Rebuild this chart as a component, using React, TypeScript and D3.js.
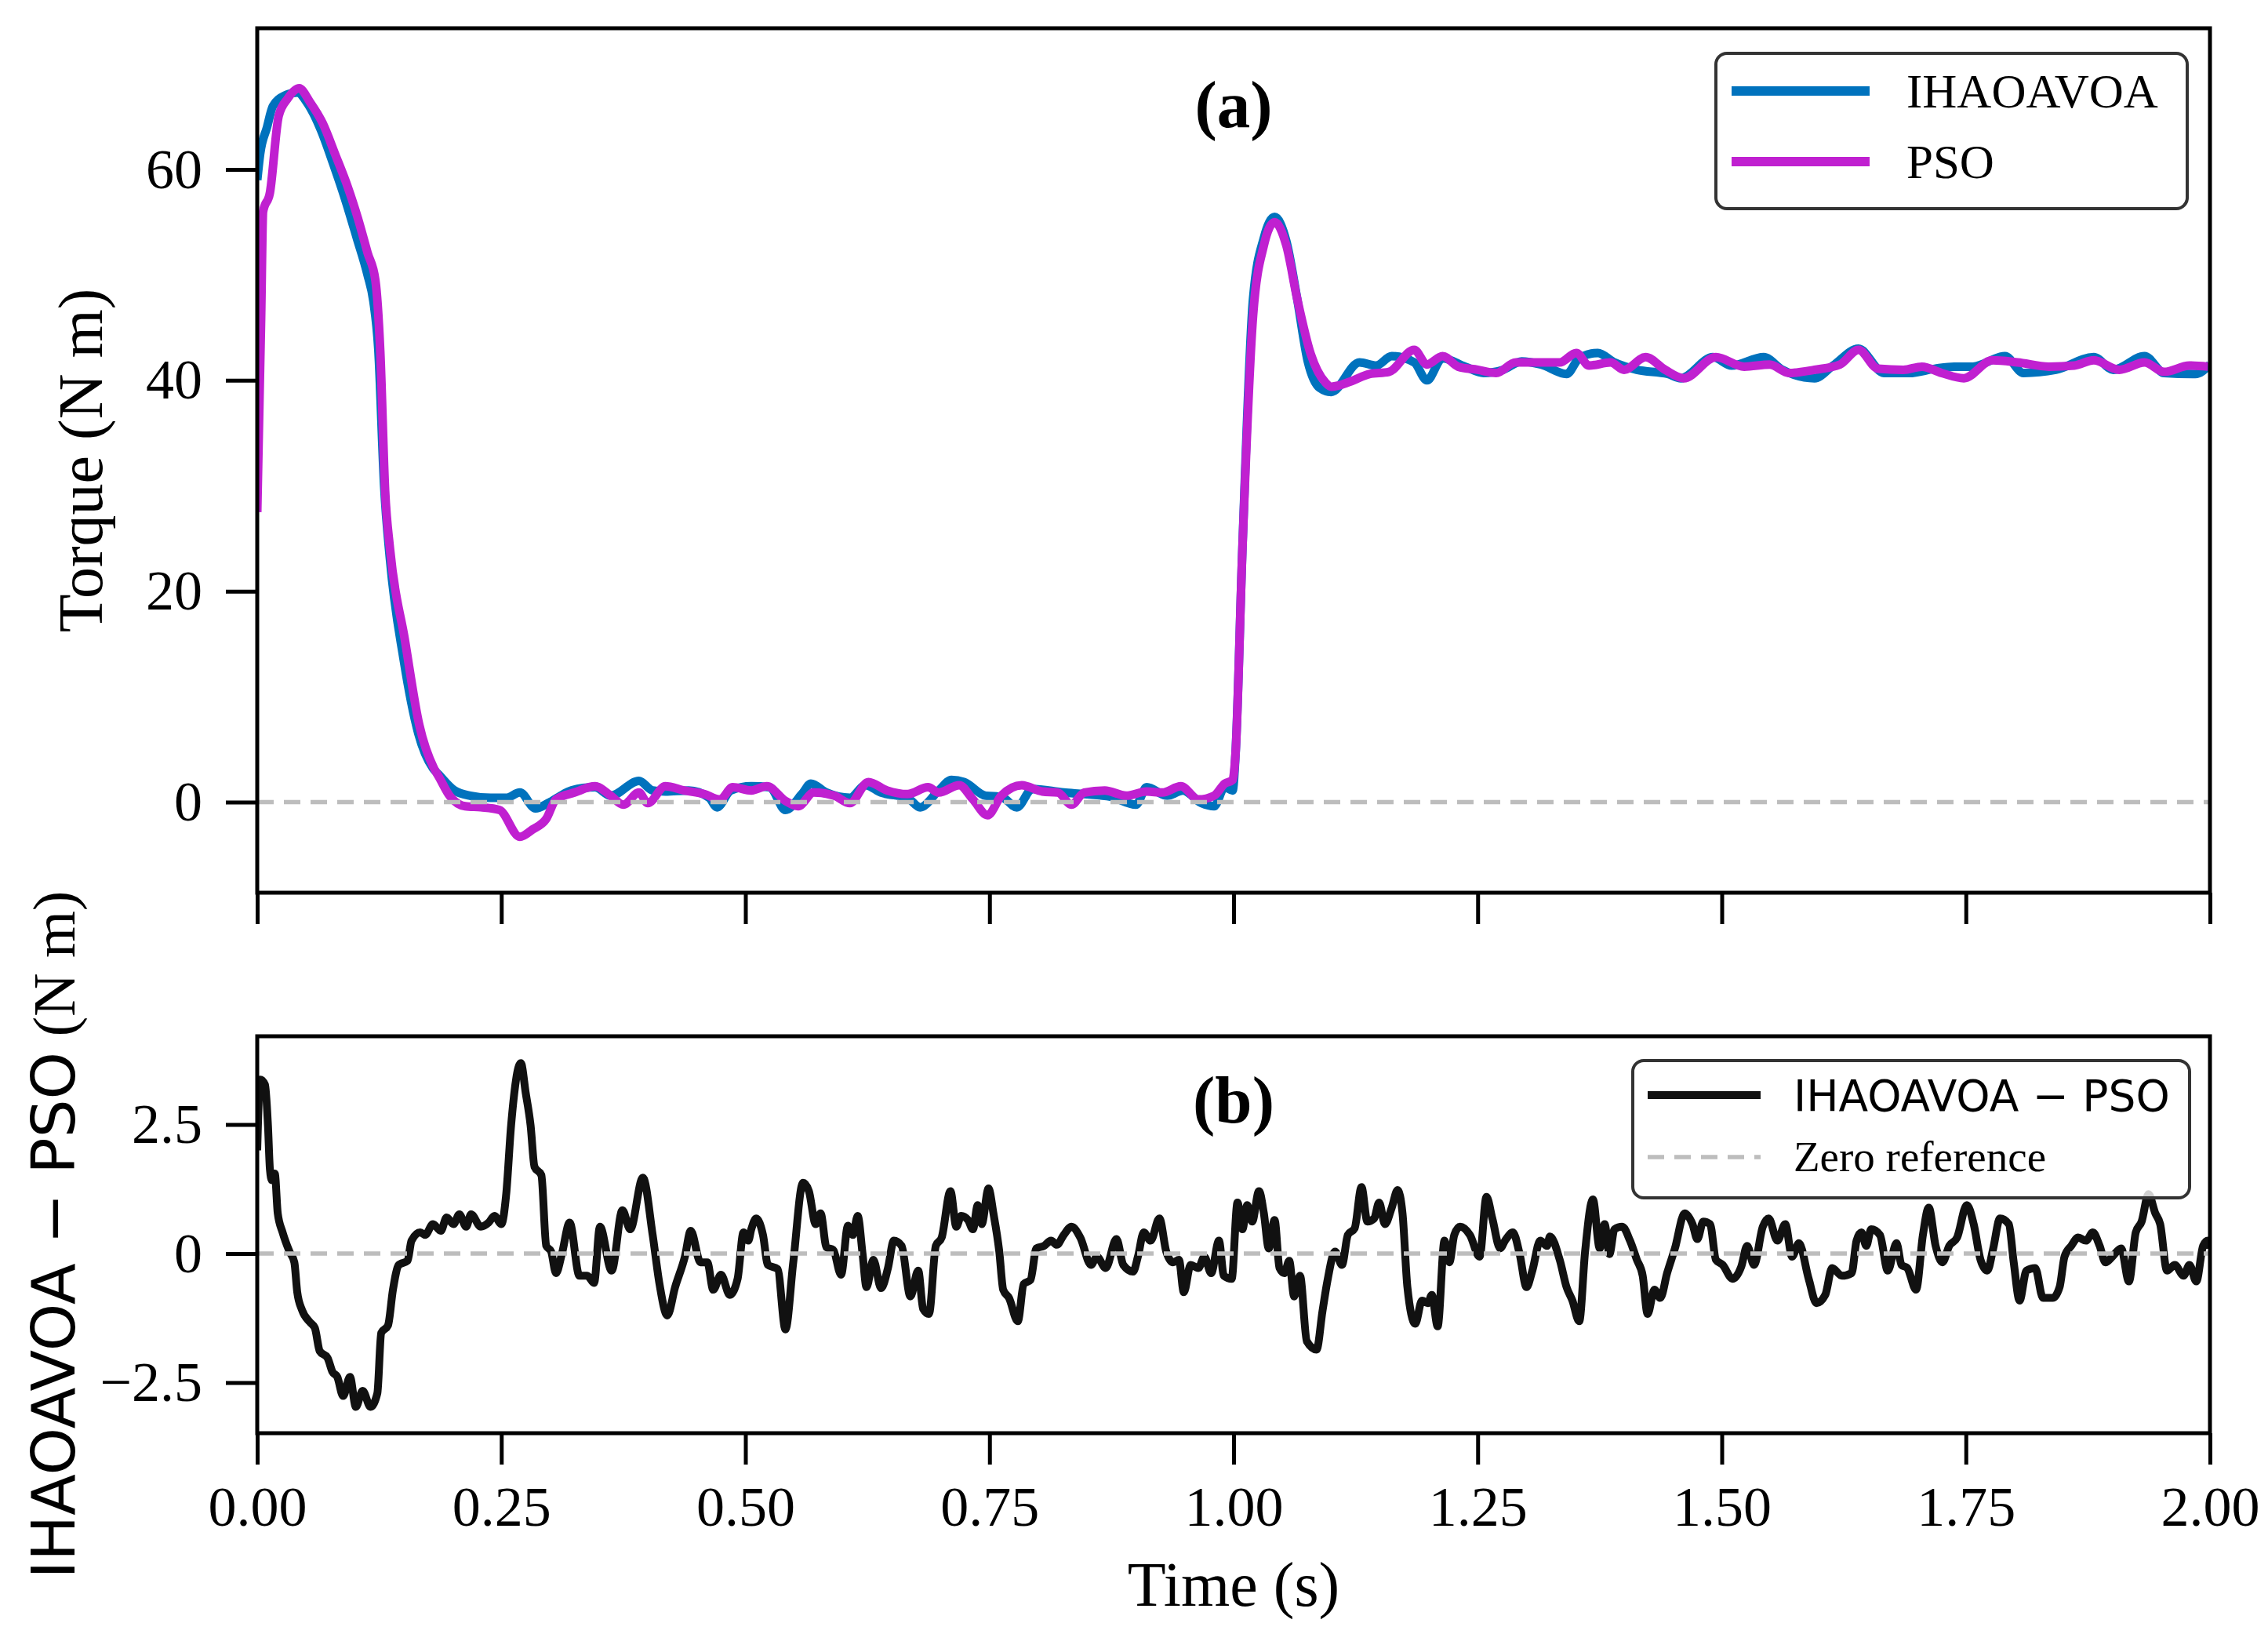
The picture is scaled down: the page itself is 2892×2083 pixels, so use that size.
import { useEffect, useRef } from "react";
import * as d3 from "d3";

// ---- data ----
const timeTicks = [0, 0.25, 0.5, 0.75, 1, 1.25, 1.5, 1.75, 2];
const torqueTicks = [0, 20, 40, 60];
const diffTicks = [-2.5, 0, 2.5];
const seriesNames = ["IHAOAVOA", "PSO"];
const diffName = "IHAOAVOA \u2212 PSO";
const zeroName = "Zero reference";

// [time (s), torque (N m)]
const ihaoavoaTorque: [number, number][] = [
  [0.0, 59.0], [0.003, 61.5], [0.01, 64.0], [0.016, 66.0], [0.028, 67.0], [0.041, 67.3],
  [0.052, 66.2], [0.065, 63.8], [0.078, 60.5], [0.09, 57.2], [0.102, 53.5], [0.113, 50.0],
  [0.119, 47.5], [0.124, 43.0], [0.13, 30.0], [0.136, 23.0], [0.15, 13.5], [0.165, 6.5],
  [0.18, 3.2], [0.186, 2.6], [0.202, 1.1], [0.218, 0.6], [0.239, 0.4], [0.255, 0.4],
  [0.269, 0.9], [0.285, -0.6], [0.298, -0.1], [0.309, 0.5], [0.322, 1.1], [0.346, 1.4],
  [0.362, 0.6], [0.391, 2.0], [0.405, 1.1], [0.418, 1.0], [0.442, 1.1], [0.463, 0.4],
  [0.471, -0.5], [0.485, 1.1], [0.506, 1.5], [0.525, 1.4], [0.541, -0.75], [0.559, 0.9],
  [0.567, 1.75], [0.583, 0.9], [0.607, 0.4], [0.623, 1.6], [0.639, 0.9], [0.666, 0.4],
  [0.679, -0.5], [0.698, 1.1], [0.711, 2.1], [0.724, 1.9], [0.746, 0.6], [0.762, 0.5],
  [0.778, -0.5], [0.794, 1.25], [0.826, 0.9], [0.847, 0.75], [0.874, 0.5], [0.9, -0.25],
  [0.911, 1.4], [0.932, 0.6], [0.948, 1.1], [0.967, -0.1], [0.98, -0.4], [0.991, 1.4],
  [0.999, 1.1], [1.002, 4.6], [1.009, 24.0], [1.02, 47.8], [1.031, 53.5], [1.042, 55.5],
  [1.054, 53.2], [1.065, 47.8], [1.076, 41.8], [1.088, 39.3], [1.1, 38.9], [1.129, 41.7],
  [1.146, 41.4], [1.162, 42.3], [1.185, 41.7], [1.198, 40.0], [1.214, 42.1], [1.237, 41.3],
  [1.256, 40.7], [1.276, 41.0], [1.295, 41.8], [1.315, 41.5], [1.341, 40.6], [1.354, 42.1],
  [1.373, 42.6], [1.39, 41.7], [1.413, 41.0], [1.445, 40.6], [1.458, 40.2], [1.491, 42.2],
  [1.51, 41.4], [1.543, 42.2], [1.562, 41.0], [1.595, 40.2], [1.614, 41.4], [1.64, 43.0],
  [1.666, 40.7], [1.692, 40.7], [1.718, 41.1], [1.738, 41.3], [1.757, 41.3], [1.79, 42.3],
  [1.809, 40.7], [1.842, 41.0], [1.881, 42.2], [1.901, 41.0], [1.933, 42.3], [1.953, 40.7],
  [1.985, 40.6], [2.0, 41.5],
];

const psoTorque: [number, number][] = [
  [0.0, 27.5], [0.004, 46.0], [0.006, 56.0], [0.013, 57.8], [0.022, 65.1], [0.031, 66.7],
  [0.043, 67.7], [0.054, 66.4], [0.067, 64.4], [0.08, 61.4], [0.0925, 58.4], [0.103, 55.4],
  [0.113, 52.1], [0.121, 49.5], [0.126, 42.8], [0.131, 29.5], [0.136, 24.0], [0.151, 15.5],
  [0.166, 7.3], [0.181, 3.2], [0.186, 2.4], [0.197, 0.6], [0.213, -0.4], [0.229, -0.5],
  [0.248, -0.75], [0.269, -3.3], [0.282, -2.6], [0.296, -1.6], [0.306, 0.25], [0.325, 0.9],
  [0.346, 1.5], [0.362, 0.6], [0.375, -0.25], [0.391, 0.9], [0.4, -0.1], [0.418, 1.5],
  [0.437, 1.1], [0.458, 0.75], [0.474, 0.25], [0.487, 1.4], [0.506, 1.1], [0.522, 1.5],
  [0.541, 0.1], [0.554, -0.4], [0.57, 0.9], [0.591, 0.6], [0.607, -0.1], [0.626, 1.9],
  [0.645, 1.1], [0.666, 0.75], [0.687, 1.4], [0.698, 0.9], [0.719, 1.6], [0.733, 0.25],
  [0.748, -1.25], [0.762, 0.6], [0.783, 1.6], [0.804, 1.0], [0.82, 0.9], [0.834, -0.25],
  [0.847, 0.9], [0.868, 1.1], [0.89, 0.6], [0.911, 1.0], [0.927, 0.9], [0.946, 1.5],
  [0.964, 0.25], [0.98, 0.6], [0.991, 1.75], [0.999, 2.1], [1.002, 4.6], [1.009, 23.9],
  [1.02, 46.2], [1.031, 52.8], [1.042, 55.0], [1.054, 52.8], [1.065, 47.8], [1.079, 42.5],
  [1.094, 39.8], [1.1, 39.4], [1.12, 39.9], [1.139, 40.6], [1.159, 40.8], [1.185, 42.9],
  [1.198, 41.5], [1.214, 42.3], [1.23, 41.3], [1.25, 41.0], [1.269, 40.7], [1.289, 41.7],
  [1.315, 41.7], [1.334, 41.7], [1.351, 42.6], [1.364, 41.4], [1.386, 41.7], [1.4, 41.0],
  [1.422, 42.2], [1.442, 41.0], [1.461, 40.2], [1.494, 42.2], [1.523, 41.3], [1.549, 41.5],
  [1.569, 40.7], [1.595, 41.0], [1.621, 41.5], [1.64, 42.9], [1.66, 41.1], [1.686, 41.0],
  [1.705, 41.3], [1.725, 40.7], [1.748, 40.2], [1.777, 41.9], [1.803, 41.7], [1.835, 41.3],
  [1.861, 41.4], [1.881, 41.9], [1.907, 41.0], [1.933, 41.7], [1.953, 40.8], [1.979, 41.4],
  [1.998, 41.3],
];

// [time (s), IHAOAVOA - PSO (N m)]
const torqueDiff: [number, number][] = [
  [0.0, 2.0], [0.003, 3.37], [0.008, 3.27], [0.011, 2.48], [0.013, 1.63], [0.015, 1.42],
  [0.018, 1.55], [0.021, 0.78], [0.026, 0.41], [0.033, 0.04], [0.038, -0.17], [0.041, -0.75],
  [0.046, -1.1], [0.054, -1.33], [0.059, -1.44], [0.064, -1.89], [0.072, -2.02], [0.077, -2.29],
  [0.082, -2.39], [0.088, -2.76], [0.095, -2.39], [0.101, -2.97], [0.108, -2.66], [0.116, -2.97],
  [0.123, -2.71], [0.127, -1.54], [0.134, -1.39], [0.139, -0.7], [0.145, -0.22], [0.154, -0.14],
  [0.158, 0.25], [0.167, 0.41], [0.172, 0.36], [0.18, 0.57], [0.188, 0.44], [0.194, 0.7],
  [0.201, 0.57], [0.207, 0.76], [0.214, 0.52], [0.219, 0.76], [0.229, 0.52], [0.237, 0.6],
  [0.243, 0.73], [0.25, 0.57], [0.255, 1.15], [0.26, 2.48], [0.27, 3.69], [0.275, 3.11],
  [0.28, 2.48], [0.284, 1.68], [0.291, 1.52], [0.296, 0.15], [0.301, 0.04], [0.306, -0.38],
  [0.312, -0.01], [0.32, 0.6], [0.33, -0.43], [0.338, -0.43], [0.345, -0.57], [0.351, 0.52],
  [0.363, -0.33], [0.374, 0.84], [0.382, 0.47], [0.395, 1.47], [0.405, 0.36], [0.412, -0.59],
  [0.42, -1.2], [0.428, -0.65], [0.438, -0.06], [0.444, 0.44], [0.454, -0.17], [0.461, -0.17],
  [0.467, -0.7], [0.475, -0.41], [0.484, -0.8], [0.492, -0.49], [0.498, 0.41], [0.503, 0.25],
  [0.506, 0.47], [0.511, 0.68], [0.518, 0.36], [0.523, -0.22], [0.533, -0.3], [0.541, -1.47],
  [0.549, -0.17], [0.559, 1.37], [0.565, 1.21], [0.572, 0.57], [0.577, 0.78], [0.583, 0.12],
  [0.59, 0.07], [0.598, -0.41], [0.605, 0.54], [0.61, 0.36], [0.615, 0.73], [0.62, -0.01],
  [0.624, -0.65], [0.631, -0.12], [0.639, -0.67], [0.646, -0.28], [0.652, 0.25], [0.66, 0.15],
  [0.669, -0.83], [0.677, -0.33], [0.682, -1.07], [0.688, -1.17], [0.695, 0.15], [0.701, 0.31],
  [0.71, 1.21], [0.716, 0.52], [0.721, 0.73], [0.728, 0.65], [0.733, 0.47], [0.738, 0.94],
  [0.742, 0.57], [0.749, 1.26], [0.754, 0.78], [0.76, 0.04], [0.764, -0.7], [0.77, -0.86],
  [0.779, -1.31], [0.785, -0.59], [0.792, -0.51], [0.798, 0.1], [0.806, 0.15], [0.813, 0.25],
  [0.819, 0.17], [0.826, 0.36], [0.834, 0.52], [0.843, 0.31], [0.854, -0.22], [0.86, -0.06],
  [0.869, -0.28], [0.88, 0.28], [0.887, -0.22], [0.897, -0.35], [0.902, -0.06], [0.908, 0.41],
  [0.915, 0.25], [0.924, 0.68], [0.931, 0.04], [0.938, -0.17], [0.944, -0.12], [0.949, -0.75],
  [0.956, -0.22], [0.964, -0.28], [0.97, -0.06], [0.977, -0.38], [0.985, 0.25], [0.99, -0.43],
  [0.998, -0.49], [1.004, 0.99], [1.009, 0.47], [1.014, 0.94], [1.019, 0.62], [1.026, 1.21],
  [1.031, 0.78], [1.036, 0.1], [1.042, 0.65], [1.047, -0.28], [1.052, -0.38], [1.057, -0.14],
  [1.062, -0.83], [1.068, -0.43], [1.075, -1.7], [1.085, -1.86], [1.091, -1.12], [1.096, -0.54],
  [1.104, 0.04], [1.111, -0.22], [1.117, 0.36], [1.124, 0.49], [1.131, 1.29], [1.137, 0.62],
  [1.144, 0.68], [1.149, 0.99], [1.155, 0.57], [1.162, 0.89], [1.168, 1.23], [1.173, 0.78],
  [1.178, -0.65], [1.186, -1.36], [1.193, -0.91], [1.199, -0.96], [1.203, -0.8], [1.209, -1.41],
  [1.216, 0.25], [1.221, -0.17], [1.226, 0.36], [1.232, 0.52], [1.242, 0.36], [1.252, -0.06],
  [1.259, 1.1], [1.265, 0.68], [1.273, 0.1], [1.278, 0.25], [1.286, 0.41], [1.293, -0.01],
  [1.3, -0.65], [1.306, -0.33], [1.314, 0.25], [1.321, 0.15], [1.324, 0.33], [1.334, -0.12],
  [1.341, -0.65], [1.347, -0.91], [1.354, -1.31], [1.36, 0.04], [1.368, 1.05], [1.375, 0.1],
  [1.38, 0.57], [1.385, -0.01], [1.39, 0.47], [1.398, 0.52], [1.406, 0.25], [1.413, -0.12],
  [1.419, -0.43], [1.424, -1.17], [1.431, -0.7], [1.437, -0.86], [1.444, -0.38], [1.452, 0.1],
  [1.462, 0.78], [1.47, 0.57], [1.475, 0.28], [1.481, 0.62], [1.488, 0.57], [1.494, -0.12],
  [1.501, -0.22], [1.511, -0.49], [1.52, -0.25], [1.526, 0.15], [1.533, -0.22], [1.542, 0.52],
  [1.548, 0.68], [1.557, 0.25], [1.565, 0.57], [1.572, -0.06], [1.579, 0.2], [1.589, -0.49],
  [1.597, -0.96], [1.606, -0.8], [1.613, -0.28], [1.623, -0.43], [1.633, -0.38], [1.638, 0.25],
  [1.643, 0.41], [1.648, 0.15], [1.653, 0.47], [1.662, 0.36], [1.67, -0.33], [1.679, 0.2],
  [1.684, -0.22], [1.69, -0.28], [1.699, -0.7], [1.706, 0.36], [1.712, 0.89], [1.719, 0.15],
  [1.726, -0.17], [1.733, 0.15], [1.741, 0.31], [1.751, 0.94], [1.758, 0.57], [1.765, -0.12],
  [1.772, -0.33], [1.778, 0.1], [1.785, 0.68], [1.794, 0.57], [1.799, -0.17], [1.805, -0.91],
  [1.812, -0.33], [1.821, -0.28], [1.829, -0.86], [1.839, -0.86], [1.846, -0.65], [1.851, -0.06],
  [1.858, 0.15], [1.865, 0.31], [1.873, 0.25], [1.88, 0.41], [1.887, 0.15], [1.893, -0.17],
  [1.9, -0.06], [1.909, 0.1], [1.917, -0.54], [1.924, 0.41], [1.93, 0.62], [1.937, 1.15],
  [1.944, 0.78], [1.949, 0.57], [1.956, -0.33], [1.964, -0.22], [1.973, -0.43], [1.979, -0.22],
  [1.986, -0.54], [1.993, 0.15], [1.998, 0.25], [2.0, 0.1],
];

const W = 2892;
const H = 2083;
const SERIF = "'Liberation Serif', 'Times New Roman', serif";
const SANS = "'DejaVu Sans', 'Noto Sans', sans-serif";
const BLUE = "#0072bd";
const MAGENTA = "#c020d0";
const ZERO_GRAY = "#bdbdbd";

const plotLeft = 328;
const plotRight = 2818;
const top = { y0: 36, y1: 1138 };
const bot = { y0: 1321, y1: 1827 };

export default function App() {
  const topXAxis = useRef<SVGGElement>(null);
  const topYAxis = useRef<SVGGElement>(null);
  const botXAxis = useRef<SVGGElement>(null);
  const botYAxis = useRef<SVGGElement>(null);

  const x = d3.scaleLinear().domain([0, 2]).range([plotLeft, plotRight]);
  const yTop = d3.scaleLinear().domain([-8.6, 73.4]).range([top.y1, top.y0]);
  const yBot = d3.scaleLinear().domain([-3.48, 4.21]).range([bot.y1, bot.y0]);

  const lineTop = d3.line<[number, number]>()
    .x((d) => x(d[0]))
    .y((d) => yTop(d[1]))
    .curve(d3.curveMonotoneX);
  const lineBot = d3.line<[number, number]>()
    .x((d) => x(d[0]))
    .y((d) => yBot(d[1]))
    .curve(d3.curveMonotoneX);

  useEffect(() => {
    document.body.style.margin = "0";

    const styleAxis = (sel: d3.Selection<SVGGElement, unknown, null, undefined>) => {
      sel.select(".domain").remove();
      sel.selectAll(".tick line").attr("stroke", "#000").attr("stroke-width", 5);
      sel.selectAll(".tick text")
        .attr("fill", "#000")
        .attr("font-family", SERIF)
        .attr("font-size", 72);
    };

    // x axes: top panel has tick marks only, bottom panel carries the labels
    d3.select(topXAxis.current!)
      .call(d3.axisBottom(x).tickValues(timeTicks).tickSize(40).tickFormat(() => ""))
      .call(styleAxis);
    d3.select(botXAxis.current!)
      .call(d3.axisBottom(x).tickValues(timeTicks).tickSize(40).tickPadding(27).tickFormat(d3.format(".2f")))
      .call(styleAxis);

    d3.select(topYAxis.current!)
      .call(d3.axisLeft(yTop).tickValues(torqueTicks).tickSize(40).tickPadding(30).tickFormat(d3.format("d")))
      .call(styleAxis);
    d3.select(botYAxis.current!)
      .call(
        d3.axisLeft(yBot).tickValues(diffTicks).tickSize(40).tickPadding(30)
          .tickFormat((d) => (d === 0 ? "0" : d3.format(".1f")(d as number)))
      )
      .call(styleAxis);
  }, []);

  const midX = (plotLeft + plotRight) / 2;

  return (
    <svg width={W} height={H} viewBox={`0 0 ${W} ${H}`} style={{ display: "block", background: "#fff" }}>
      <defs>
        <clipPath id="clipTop">
          <rect x={plotLeft} y={top.y0} width={plotRight - plotLeft} height={top.y1 - top.y0} />
        </clipPath>
        <clipPath id="clipBot">
          <rect x={plotLeft} y={bot.y0} width={plotRight - plotLeft} height={bot.y1 - bot.y0} />
        </clipPath>
      </defs>

      {/* ── (a) torque ───────────────────────────── */}
      <g clipPath="url(#clipTop)">
        <path d={lineTop(ihaoavoaTorque) ?? ""} fill="none" stroke={BLUE} strokeWidth={11} strokeLinejoin="round" />
        <path d={lineTop(psoTorque) ?? ""} fill="none" stroke={MAGENTA} strokeWidth={11} strokeLinejoin="round" />
        <line x1={plotLeft} x2={plotRight} y1={yTop(0)} y2={yTop(0)} stroke={ZERO_GRAY} strokeWidth={5.5} strokeDasharray="21 13" />
      </g>
      <rect x={plotLeft} y={top.y0} width={plotRight - plotLeft} height={top.y1 - top.y0} fill="none" stroke="#000" strokeWidth={5} />
      <g ref={topXAxis} transform={`translate(0,${top.y1})`} />
      <g ref={topYAxis} transform={`translate(${plotLeft},0)`} />
      <text x={midX} y={162} textAnchor="middle" fontFamily={SERIF} fontWeight="bold" fontSize={85}>(a)</text>

      <g>
        <rect x={2188} y={68} width={601} height={198} rx={14} fill="#fff" fillOpacity={0.8} stroke="#333" strokeWidth={4} />
        {seriesNames.map((name, i) => {
          const ry = 116 + i * 90;
          return (
            <g key={name}>
              <line x1={2208} x2={2384} y1={ry} y2={ry} stroke={i === 0 ? BLUE : MAGENTA} strokeWidth={12} />
              <text x={2431} y={ry + 21} fontFamily={SERIF} fontSize={61}>{name}</text>
            </g>
          );
        })}
      </g>

      <text
        transform={`translate(130,${(top.y0 + top.y1) / 2}) rotate(-90)`}
        textAnchor="middle"
        fontFamily={SERIF}
        fontSize={80}
      >
        Torque (N m)
      </text>

      {/* ── (b) difference ───────────────────────── */}
      <g clipPath="url(#clipBot)">
        <path d={lineBot(torqueDiff) ?? ""} fill="none" stroke="#111" strokeWidth={10} strokeLinejoin="round" />
        <line x1={plotLeft} x2={plotRight} y1={yBot(0)} y2={yBot(0)} stroke={ZERO_GRAY} strokeWidth={5.5} strokeDasharray="21 13" />
      </g>
      <rect x={plotLeft} y={bot.y0} width={plotRight - plotLeft} height={bot.y1 - bot.y0} fill="none" stroke="#000" strokeWidth={5} />
      <g ref={botXAxis} transform={`translate(0,${bot.y1})`} />
      <g ref={botYAxis} transform={`translate(${plotLeft},0)`} />
      <text x={midX} y={1431} textAnchor="middle" fontFamily={SERIF} fontWeight="bold" fontSize={85}>(b)</text>

      <g>
        <rect x={2082} y={1352} width={710} height={175} rx={14} fill="#fff" fillOpacity={0.8} stroke="#333" strokeWidth={4} />
        <line x1={2101} x2={2245} y1={1396} y2={1396} stroke="#111" strokeWidth={10} />
        <text x={2287} y={1396 + 20} fontFamily={SANS} fontSize={55}>{diffName}</text>
        <line x1={2101} x2={2245} y1={1475} y2={1475} stroke={ZERO_GRAY} strokeWidth={5.5} strokeDasharray="21 13" />
        <text x={2287} y={1475 + 18} fontFamily={SERIF} fontSize={55}>{zeroName}</text>
      </g>

      <text
        transform={`translate(95,${(bot.y0 + bot.y1) / 2}) rotate(-90)`}
        textAnchor="middle"
        fontSize={77}
      >
        <tspan fontFamily={SANS}>{diffName}</tspan>
        <tspan fontFamily={SERIF}> (N m)</tspan>
      </text>

      <text x={midX} y={2047} textAnchor="middle" fontFamily={SERIF} fontSize={80}>Time (s)</text>
    </svg>
  );
}
